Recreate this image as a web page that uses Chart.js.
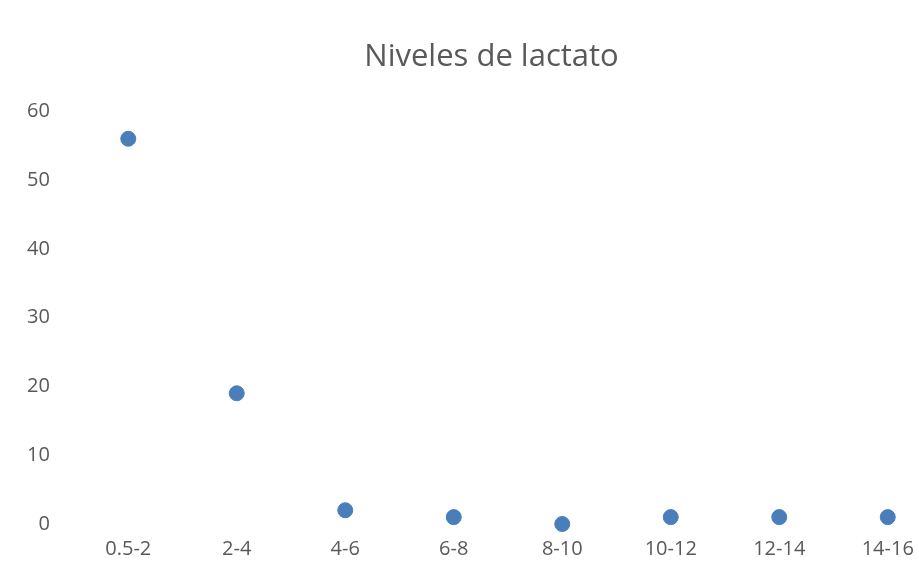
<!DOCTYPE html>
<html>
<head>
<meta charset="utf-8">
<script src="https://cdn.jsdelivr.net/npm/chart.js@4/dist/chart.umd.min.js"></script>
<style>
  html, body { margin: 0; padding: 0; background: #fff; overflow: hidden; }
  #wrap { width: 973px; height: 573px; position: relative; }
</style>
</head>
<body>
<div id="wrap"><canvas id="lactatoChart"></canvas></div>
<script>
/*Niveles de lactato*/

const rangos = ['0.5-2', '2-4', '4-6', '6-8', '8-10', '10-12', '12-14', '14-16'];
const valores = [56, 19, 2, 1, 0, 1, 1, 1];
const ticksY = [0, 10, 20, 30, 40, 50, 60];

const ctx = document.getElementById('lactatoChart').getContext('2d');
const lactatoChart = new Chart(ctx, {
    type: 'line',
    data: {
        labels: rangos,
        datasets: [{
            label: 'Niveles de lactato',
            data: valores,
            showLine: false,
            clip: false,
            pointRadius: 7.5,
            pointHoverRadius: 7.5,
            pointBackgroundColor: '#4a7ebb',
            pointBorderColor: '#4a7ebb',
            pointBorderWidth: 1
        }]
    },
    options: {
        responsive: true,
        maintainAspectRatio: false,
        animation: false,
        layout: {
            padding: { left: 41, right: 31, top: 0, bottom: 7 }
        },
        plugins: {
            legend: { display: false },
            tooltip: { enabled: false },
            title: {
                display: true,
                text: 'Niveles de lactato',
                color: '#595959',
                font: { family: 'Open Sans', size: 31, weight: 'normal' },
                padding: { top: 39, bottom: 35 }
            }
        },
        scales: {
            x: {
                offset: true,
                grid: { display: false },
                border: { display: false },
                ticks: {
                    color: '#595959',
                    font: { family: 'Open Sans', size: 20 },
                    padding: 5,
                    maxRotation: 0
                }
            },
            y: {
                min: 0,
                max: 60,
                afterBuildTicks: function(axis) {
                    axis.ticks = ticksY.map(v => ({ value: v }));
                },
                afterFit: function(axis) {
                    axis.width = 33;
                },
                grid: { display: false },
                border: { display: false },
                ticks: {
                    color: '#595959',
                    font: { family: 'Open Sans', size: 20 },
                    mirror: true,
                    crossAlign: 'far',
                    padding: -47
                }
            }
        }
    }
});

/*Niveles de lactato*/
</script>
</body>
</html>
